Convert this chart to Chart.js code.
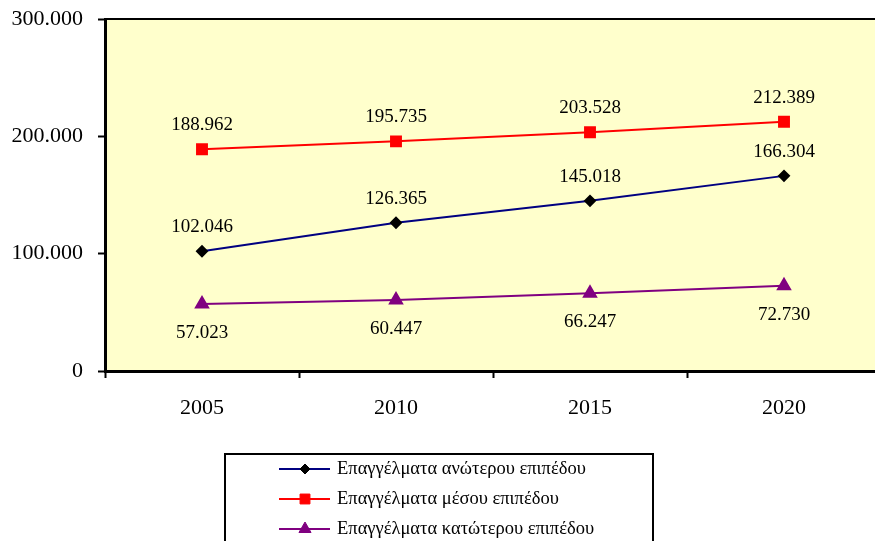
<!DOCTYPE html>
<html>
<head>
<meta charset="utf-8">
<script src="https://cdn.jsdelivr.net/npm/chart.js@4"></script>
<style>
  html, body { margin: 0; padding: 0; overflow: hidden; background: #fff; }
  #wrap { width: 890px; height: 541px; }
</style>
</head>
<body>
<div id="wrap"><canvas id="jobsChart"></canvas></div>
<script>
const years = ["2005", "2010", "2015", "2020"];
const upperLevel = [102046, 126365, 145018, 166304];
const middleLevel = [188962, 195735, 203528, 212389];
const lowerLevel = [57023, 60447, 66247, 72730];
const yTickLabels = ["0", "100.000", "200.000", "300.000"];
const seriesNames = [
  "Επαγγέλματα ανώτερου επιπέδου",
  "Επαγγέλματα μέσου επιπέδου",
  "Επαγγέλματα κατώτερου επιπέδου"
];

const serif = "'Liberation Serif', 'Times New Roman', serif";

function fmt(v) {
  return String(v).replace(/\B(?=(\d{3})+(?!\d))/g, ".");
}

// yellow plot background + top border
const plotBg = {
  id: "plotBg",
  beforeDraw(chart) {
    const { ctx, chartArea: a } = chart;
    ctx.save();
    ctx.fillStyle = "#FFFFCC";
    ctx.fillRect(a.left, a.top, a.right - a.left, a.bottom - a.top);
    ctx.strokeStyle = "#000";
    ctx.lineWidth = 2;
    ctx.beginPath();
    ctx.moveTo(a.left, a.top);
    ctx.lineTo(a.right, a.top);
    ctx.lineTo(a.right, a.bottom);
    ctx.stroke();
    ctx.restore();
  }
};

// value labels: above for first two series, below for the last one
const valueLabels = {
  id: "valueLabels",
  afterDatasetsDraw(chart) {
    const ctx = chart.ctx;
    ctx.save();
    ctx.font = "19px " + serif;
    ctx.fillStyle = "#000";
    ctx.textAlign = "center";
    ctx.textBaseline = "middle";
    chart.data.datasets.forEach((ds, i) => {
      const meta = chart.getDatasetMeta(i);
      meta.data.forEach((pt, j) => {
        const dy = i === 2 ? 29 : -24;
        ctx.fillText(fmt(ds.data[j]), pt.x, pt.y + dy);
      });
    });
    ctx.restore();
  }
};

function drawMarker(ctx, ds, x, y) {
  ctx.save();
  ctx.fillStyle = ds.pointBackgroundColor;
  ctx.strokeStyle = ds.pointBorderColor;
  ctx.lineWidth = 1;
  Chart.helpers.drawPoint(ctx, {
    pointStyle: ds.pointStyle,
    radius: ds.pointRadius,
    rotation: 0,
    borderWidth: 1
  }, x, y);
  ctx.restore();
}

// boxed legend under the chart
const boxLegend = {
  id: "boxLegend",
  afterDraw(chart) {
    const ctx = chart.ctx;
    ctx.save();
    ctx.strokeStyle = "#000";
    ctx.lineWidth = 2;
    ctx.strokeRect(225, 454, 428, 120);
    ctx.font = "18.5px " + serif;
    ctx.textBaseline = "middle";
    ctx.textAlign = "left";
    chart.data.datasets.forEach((ds, i) => {
      const y = 469 + i * 30;
      ctx.strokeStyle = ds.borderColor;
      ctx.lineWidth = 2;
      ctx.beginPath();
      ctx.moveTo(279, y);
      ctx.lineTo(330, y);
      ctx.stroke();
      drawMarker(ctx, ds, 305, y);
      ctx.fillStyle = "#000";
      ctx.fillText(ds.label, 337, y);
    });
    ctx.restore();
  }
};

new Chart(document.getElementById("jobsChart"), {
  type: "line",
  data: {
    labels: years,
    datasets: [
      {
        label: seriesNames[0],
        data: upperLevel,
        borderColor: "#000080",
        borderWidth: 2,
        pointStyle: "rectRot",
        pointRadius: 5,
        pointBackgroundColor: "#000",
        pointBorderColor: "#000"
      },
      {
        label: seriesNames[1],
        data: middleLevel,
        borderColor: "#FF0000",
        borderWidth: 2,
        pointStyle: "rect",
        pointRadius: 7,
        pointBackgroundColor: "#FF0000",
        pointBorderColor: "#FF0000"
      },
      {
        label: seriesNames[2],
        data: lowerLevel,
        borderColor: "#800080",
        borderWidth: 2,
        pointStyle: "triangle",
        pointRadius: 7,
        pointBackgroundColor: "#800080",
        pointBorderColor: "#800080"
      }
    ]
  },
  options: {
    responsive: true,
    maintainAspectRatio: false,
    animation: false,
    layout: { padding: { top: 19, left: 0, right: 3, bottom: 0 } },
    plugins: {
      legend: { display: false },
      tooltip: { enabled: false }
    },
    scales: {
      x: {
        offset: true,
        grid: {
          offset: true,
          drawOnChartArea: false,
          drawTicks: true,
          tickLength: 7,
          tickWidth: 2,
          tickColor: "#000"
        },
        border: { color: "#000", width: 3 },
        ticks: {
          color: "#000",
          padding: 17,
          font: { family: serif, size: 22 }
        },
        afterFit(s) { s.height = 170; }
      },
      y: {
        min: 0,
        max: 300000,
        grid: {
          drawOnChartArea: false,
          drawTicks: true,
          tickLength: 7,
          tickWidth: 2,
          tickColor: "#000"
        },
        border: { color: "#000", width: 3 },
        ticks: {
          stepSize: 100000,
          color: "#000",
          padding: 15,
          font: { family: serif, size: 22 },
          callback: (v) => yTickLabels[Math.round(v / 100000)]
        },
        afterFit(s) {
          s.width = 105;
          s.paddingTop = 0;
          s.paddingBottom = 0;
        }
      }
    }
  },
  plugins: [plotBg, valueLabels, boxLegend]
});
</script>
</body>
</html>
